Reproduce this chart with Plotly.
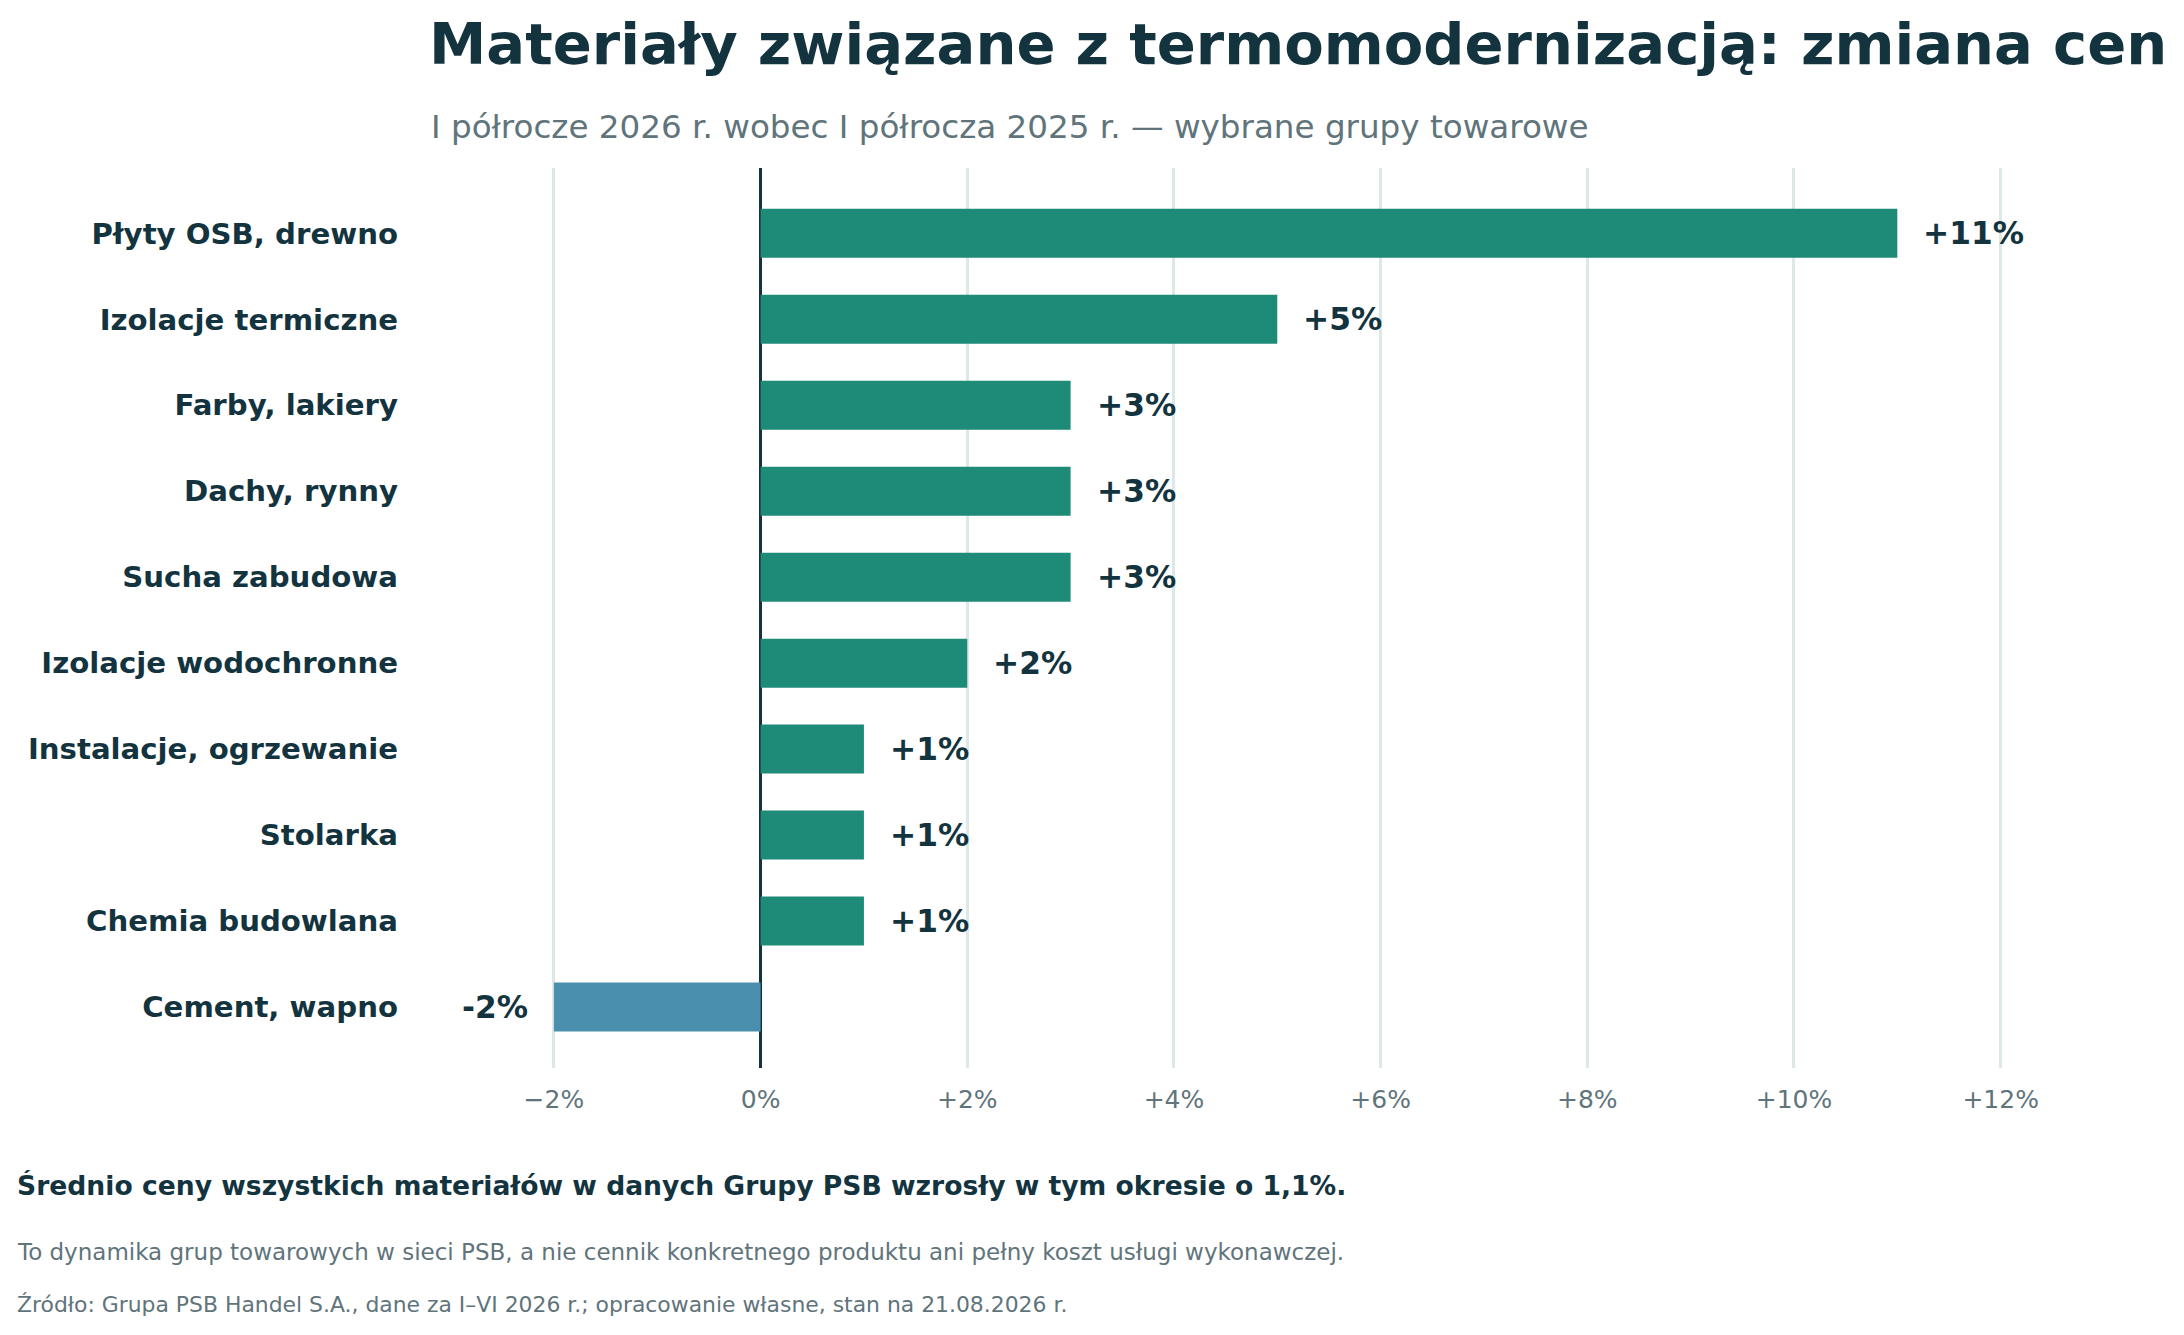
import plotly.graph_objects as go

categories = [
    "Płyty OSB, drewno",
    "Izolacje termiczne",
    "Farby, lakiery",
    "Dachy, rynny",
    "Sucha zabudowa",
    "Izolacje wodochronne",
    "Instalacje, ogrzewanie",
    "Stolarka",
    "Chemia budowlana",
    "Cement, wapno",
]
values = [11, 5, 3, 3, 3, 2, 1, 1, 1, -2]
value_labels = ["+11%", "+5%", "+3%", "+3%", "+3%", "+2%", "+1%", "+1%", "+1%", "-2%"]
tick_vals = [-2, 0, 2, 4, 6, 8, 10, 12]
tick_text = ["−2%", "0%", "+2%", "+4%", "+6%", "+8%", "+10%", "+12%"]

TITLE = "Materiały związane z termomodernizacją: zmiana cen"
SUBTITLE = "I półrocze 2026 r. wobec I półrocza 2025 r. — wybrane grupy towarowe"
NOTE_BOLD = "Średnio ceny wszystkich materiałów w danych Grupy PSB wzrosły w tym okresie o 1,1%."
NOTE = "To dynamika grup towarowych w sieci PSB, a nie cennik konkretnego produktu ani pełny koszt usługi wykonawczej."
SOURCE = "Źródło: Grupa PSB Handel S.A., dane za I–VI 2026 r.; opracowanie własne, stan na 21.08.2026 r."

POS = "#1e8a78"
NEG = "#4b8fae"
DARK = "#13343f"
GRAY = "#5f747b"
GRID = "#dde9e7"
FONT = "DejaVu Sans"

W, H = 2184, 1335
OFF = 8  # page body margin
L, R, T, B = 425, 88, 160, 275
PW = W - L - R
PH = H - T - B

colors = [POS if v >= 0 else NEG for v in values]

fig = go.Figure()
fig.add_trace(go.Bar(
    x=values, y=categories, orientation="h",
    marker=dict(color=colors, line=dict(width=0)),
    width=0.57, hoverinfo="skip", showlegend=False,
))

for cat, v, lab in zip(categories, values, value_labels):
    fig.add_annotation(
        x=v, y=cat, xref="x", yref="y", text=f"<b>{lab}</b>", showarrow=False,
        xanchor="left" if v >= 0 else "right", yanchor="middle",
        xshift=24 if v >= 0 else -24,
        font=dict(family=FONT, size=31.25, color=DARK),
    )

def px_x(px):
    return (px - OFF - L) / PW

def px_y(py):
    return (H - B - (py - OFF)) / PH

fig.add_annotation(x=px_x(429), y=px_y(127), xref="paper", yref="paper", text=SUBTITLE,
                   showarrow=False, xanchor="left", yanchor="middle",
                   font=dict(family=FONT, size=32.6, color=GRAY))
fig.add_annotation(x=px_x(15), y=px_y(1185), xref="paper", yref="paper", text=f"<b>{NOTE_BOLD}</b>",
                   showarrow=False, xanchor="left", yanchor="middle",
                   font=dict(family=FONT, size=26.6, color=DARK))
fig.add_annotation(x=px_x(15), y=px_y(1252), xref="paper", yref="paper", text=NOTE,
                   showarrow=False, xanchor="left", yanchor="middle",
                   font=dict(family=FONT, size=23.0, color=GRAY))
fig.add_annotation(x=px_x(15), y=px_y(1305), xref="paper", yref="paper", text=SOURCE,
                   showarrow=False, xanchor="left", yanchor="middle",
                   font=dict(family=FONT, size=21.9, color=GRAY))

fig.update_layout(
    width=W, height=H,
    margin=dict(l=L, r=R, t=T, b=B, autoexpand=False),
    paper_bgcolor="white", plot_bgcolor="white",
    font=dict(family=FONT, color=DARK),
    title=dict(text=f"<b>{TITLE}</b>", x=(429 - OFF) / W, xanchor="left", xref="container",
               y=1 - (44 - OFF) / H, yanchor="middle", yref="container",
               font=dict(family=FONT, size=57.6, color=DARK)),
    xaxis=dict(range=[-3.17, 13.0], tickvals=tick_vals, ticktext=tick_text,
               showgrid=True, gridcolor=GRID, gridwidth=2.5,
               zeroline=True, zerolinecolor=DARK, zerolinewidth=2.8,
               showline=False, ticks="", ticklabelstandoff=14,
               tickfont=dict(family=FONT, size=25, color=GRAY), fixedrange=True),
    yaxis=dict(categoryorder="array", categoryarray=categories, range=[9.71, -0.76],
               showgrid=False, zeroline=False, showline=False, ticks="",
               ticklabelstandoff=34,
               tickfont=dict(family=FONT, size=29.2, color=DARK), fixedrange=True),
)
fig.update_yaxes(tickvals=categories, ticktext=[f"<b>{c}</b>" for c in categories])

fig.write_html("out.html")
